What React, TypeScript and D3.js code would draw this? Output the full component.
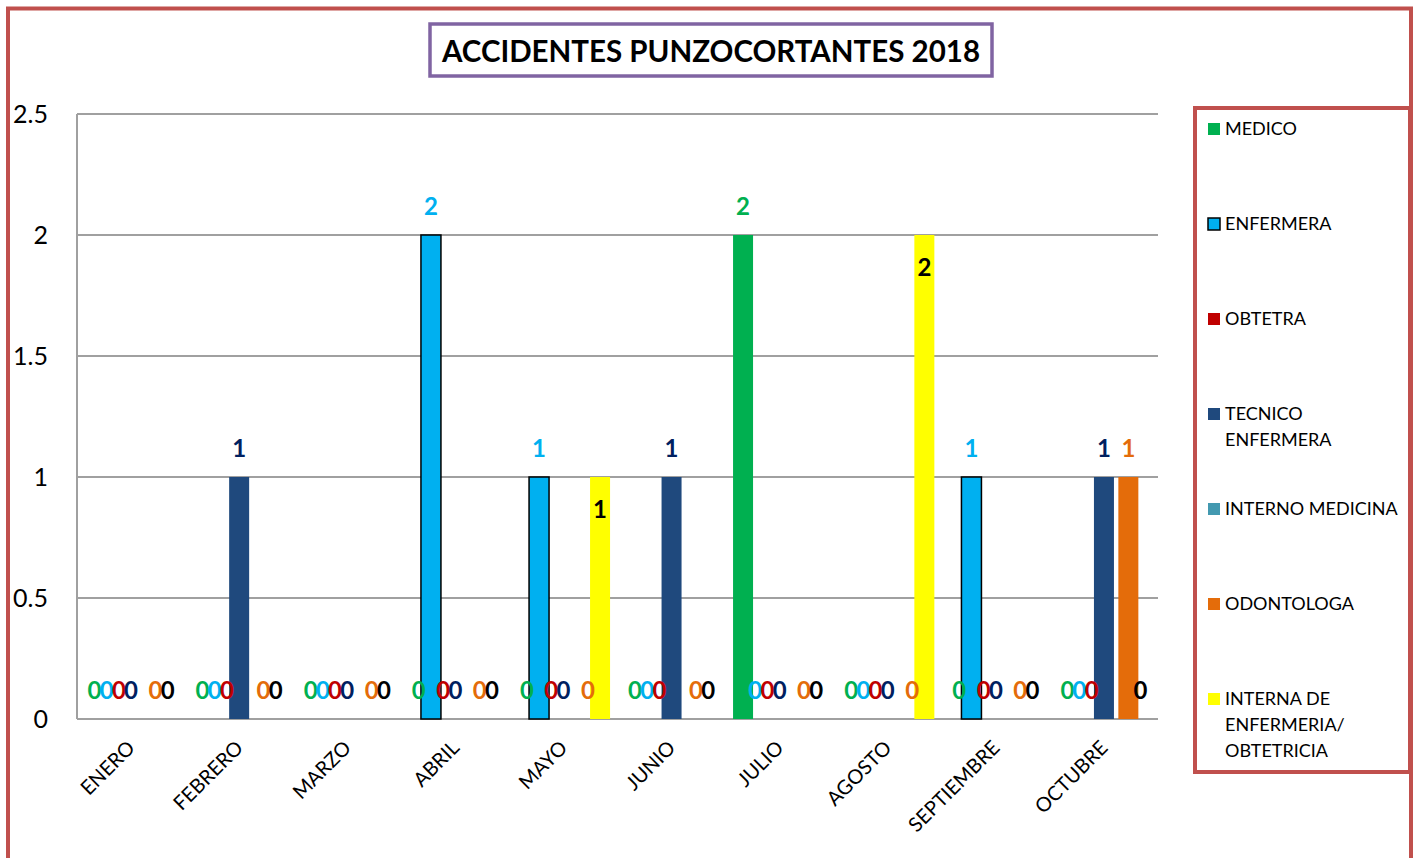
import React from "react";
import * as d3 from "d3";

const months = ["ENERO","FEBRERO","MARZO","ABRIL","MAYO","JUNIO","JULIO","AGOSTO","SEPTIEMBRE","OCTUBRE"];
const seriesNames = ["MEDICO","ENFERMERA","OBTETRA","TECNICO ENFERMERA","INTERNO MEDICINA","ODONTOLOGA","INTERNA DE ENFERMERIA/ OBTETRICIA"];
const legendLines = [["MEDICO"],["ENFERMERA"],["OBTETRA"],["TECNICO","ENFERMERA"],["INTERNO MEDICINA"],["ODONTOLOGA"],["INTERNA DE","ENFERMERIA/","OBTETRICIA"]];
const medico =     [0,0,0,0,0,0,2,0,0,0];
const enfermera =  [0,0,0,2,1,0,0,0,1,0];
const obtetra =    [0,0,0,0,0,0,0,0,0,0];
const tecnico =    [0,1,0,0,0,1,0,0,0,1];
const interno =    [0,0,0,0,0,0,0,0,0,0];
const odontologa = [0,0,0,0,0,0,0,0,0,1];
const interna =    [0,0,0,0,1,0,0,2,0,0];
const seriesValues = [medico, enfermera, obtetra, tecnico, interno, odontologa, interna];
const barColors = ["#00b050","#00b0f0","#c00000","#1f497d","#4399b0","#e46c0a","#ffff00"];
const labelColors = ["#00b050","#00b0f0","#c00000","#002060",null,"#e46c0a","#000000"];
const yTicks = [0,0.5,1,1.5,2,2.5];
const title = "ACCIDENTES PUNZOCORTANTES 2018";

const FONT = "Lato, 'Open Sans', sans-serif";
const LFONT = "'Liberation Sans Narrow', Lato, sans-serif";

export default function App() {
  const left = 77, right = 1158, top = 114, bottom = 719;
  const x = d3.scaleBand<string>().domain(months).range([left, right]).paddingInner(0).paddingOuter(0);
  const y = d3.scaleLinear().domain([0, 2.5]).range([bottom, top]);
  const inner = d3.scaleBand<string>().domain(seriesNames).range([-42.7, 42.7]);
  const barW = 20;
  const center = (m: string, s: string) => (x(m)! + x.bandwidth() / 2) + inner(s)! + inner.bandwidth() / 2;

  const elems: React.ReactNode[] = [];
  seriesNames.forEach((s, si) => {
    const vals = seriesValues[si];
    months.forEach((m, mi) => {
      const v = vals[mi];
      if (v > 0) {
        elems.push(
          <rect key={`b${si}-${mi}`} x={center(m, s) - barW / 2} y={y(v)} width={barW} height={y(0) - y(v)}
            fill={barColors[si]} stroke={si === 1 ? "#000" : "none"} strokeWidth={si === 1 ? 1.5 : 0} />
        );
      }
    });
  });
  seriesNames.forEach((s, si) => {
    const vals = seriesValues[si];
    const lc = labelColors[si];
    if (!lc) return;
    months.forEach((m, mi) => {
      const v = vals[mi];
      let ly = y(v) - 29;
      if (si === 6 && v > 0) ly = y(v) + 32;
      elems.push(
        <text key={`l${si}-${mi}`} x={center(m, s)} y={ly} dy="0.36em" textAnchor="middle"
          fontFamily={LFONT} fontWeight="bold" fontSize={24} fill={lc}>{v}</text>
      );
    });
  });

  return (
    <svg width={1414} height={858} style={{ position: "absolute", left: 0, top: 0, background: "#fff" }}>
      <rect x={0} y={0} width={1414} height={858} fill="#fff" />
      <rect x={8} y={8.5} width={1403} height={900} fill="none" stroke="#c0504d" strokeWidth={4} />
      <rect x={430} y={24} width={562} height={52} fill="#fff" stroke="#8064a2" strokeWidth={3.5} />
      <text x={711} y={51} dy="0.36em" textAnchor="middle" fontFamily={FONT} fontWeight="bold" fontSize={29.5} fill="#000">{title}</text>

      {yTicks.map((t) => (
        <g key={`g${t}`}>
          <line x1={left} x2={right} y1={y(t)} y2={y(t)} stroke="#a0a0a0" strokeWidth={2} />
          <text x={48} y={y(t)} dy="0.36em" textAnchor="end" fontFamily={FONT} fontSize={25} fill="#000">{t}</text>
        </g>
      ))}
      <line x1={left} x2={left} y1={top} y2={bottom} stroke="#a0a0a0" strokeWidth={2} />

      {elems}

      {months.map((m) => {
        const cx = x(m)! + x.bandwidth() / 2 + 0;
        return (
          <text key={`x${m}`} transform={`translate(${cx},${744}) rotate(-45)`} textAnchor="end" dy="0.36em"
            fontFamily={FONT} fontSize={20} fill="#000">{m}</text>
        );
      })}

      <rect x={1195} y={108} width={215} height={664} fill="#fff" stroke="#c0504d" strokeWidth={4} />
      {legendLines.map((lines, i) => {
        const ly = 129 + i * 95;
        return (
          <g key={`lg${i}`}>
            <rect x={1208} y={ly - 6} width={12} height={12} fill={barColors[i]} stroke={i === 1 ? "#000" : "none"} strokeWidth={i === 1 ? 1.5 : 0} />
            {lines.map((ln, j) => (
              <text key={j} x={1225} y={ly + j * 26} dy="0.36em" fontFamily={FONT} fontSize={18} fill="#000">{ln}</text>
            ))}
          </g>
        );
      })}
    </svg>
  );
}
